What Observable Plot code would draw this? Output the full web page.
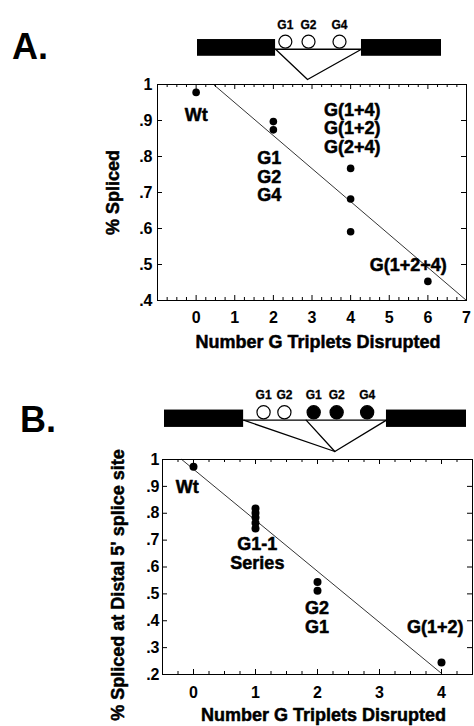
<!DOCTYPE html>
<html><head><meta charset="utf-8">
<script src="https://cdn.jsdelivr.net/npm/d3@7"></script>
<script src="https://cdn.jsdelivr.net/npm/@observablehq/plot@0.6"></script>
<style>
body{margin:0;background:#fff}
#root{position:relative;width:474px;height:726px;overflow:hidden;background:#fff;font-family:"Liberation Sans",Arial,sans-serif;font-weight:bold}
#root svg{position:absolute;left:0}
#root svg text{font-weight:bold}
.panel{position:absolute;font-size:36px;font-weight:bold;line-height:36px;color:#000}
</style></head><body><div id="root"></div>
<script>
// ---------- Panel A data ----------
const aX = [0, 2, 2, 4, 4, 4, 6];
const aY = [0.978, 0.897, 0.874, 0.767, 0.682, 0.591, 0.453];
const aFitX = [0.45, 7];
const aFitY = [1, 0.4];
const aLabels = ["Wt", "G1\nG2\nG4", "G(1+4)\nG(1+2)\nG(2+4)", "G(1+2+4)"];
const aLabelX = [0, 1.89, 4.04, 5.49];
const aLabelY = [0.914, 0.744, 0.878, 0.5];
const aXTicks = [0, 1, 2, 3, 4, 5, 6, 7];
const aYTicks = [0.4, 0.5, 0.6, 0.7, 0.8, 0.9, 1];

// ---------- Panel B data ----------
const bX = [0, 1, 1, 1, 1, 1, 2, 2, 4];
const bY = [0.973, 0.818, 0.801, 0.784, 0.764, 0.743, 0.544, 0.512, 0.245];
const bFitX = [-0.19, 4];
const bFitY = [1, 0.204];
const bLabels = ["Wt", "G1-1\nSeries", "G2\nG1", "G(1+2)"];
const bLabelX = [-0.1, 1.03, 1.99, 3.9];
const bLabelY = [0.896, 0.649, 0.412, 0.378];
const bXTicks = [0, 1, 2, 3, 4];
const bYTicks = [0.2, 0.3, 0.4, 0.5, 0.6, 0.7, 0.8, 0.9, 1];

// ---------- Schematic data (arbitrary units 0-100) ----------
const aExonStart = [0, 67.2], aExonEnd = [32, 100];
const aSiteName = ["G1", "G2", "G4"], aSitePos = [36, 45.5, 58.2], aSiteFilled = [false, false, false];
const aSplicePaths = [[32, 45.1, 67.2]];
const bExonStart = [0, 73.5], bExonEnd = [26.2, 100];
const bSiteName = ["G1", "G2", "G1", "G2", "G4"], bSitePos = [32.8, 39.7, 49.4, 57, 67.1], bSiteFilled = [false, false, true, true, true];
const bSplicePaths = [[26.2, 56.4, 73.5], [46.9, 56.4]];

const FONT = '"Liberation Sans", Arial, sans-serif';
const root = document.getElementById("root");
const fmtY = d => d === 1 ? "1" : d3.format(".1f")(d).replace(/^0/, "");
const heavy = {fontWeight: "bold", fill: "black", stroke: "black", strokeWidth: 0.5};

function chart(o) {
  const W = 474;
  const fw = W - o.mL - o.mR, fh = o.height - o.mT - o.mB;
  const pts = o.xs.map((x, i) => ({x, y: o.ys[i]}));
  const fit = o.fitX.map((x, i) => ({x, y: o.fitY[i]}));
  const lab = o.labels.map((t, i) => ({t, x: o.labelX[i], y: o.labelY[i]}));
  const minorX = d3.range(Math.ceil(o.xDomain[0] * 4) / 4, o.xDomain[1] + 1e-9, 0.25).filter(v => Math.abs(v - Math.round(v)) > 1e-6);
  const svg = Plot.plot({
    width: W, height: o.height,
    marginLeft: o.mL, marginRight: o.mR, marginTop: o.mT, marginBottom: o.mB,
    style: {fontFamily: FONT, fontWeight: "bold", background: "transparent", color: "black"},
    x: {domain: o.xDomain, axis: null},
    y: {domain: o.yDomain, axis: null},
    marks: [
      Plot.frame({stroke: "black", strokeWidth: 1}),
      Plot.ruleX(o.xTicks, {x: d => d, insetTop: fh - 5, stroke: "black"}),
      Plot.ruleX(o.xTicks, {x: d => d, insetBottom: fh - 5, stroke: "black"}),
      Plot.ruleX(minorX, {x: d => d, insetTop: fh - 3, stroke: "black"}),
      Plot.ruleX(minorX, {x: d => d, insetBottom: fh - 3, stroke: "black"}),
      Plot.ruleY(o.yTicks, {y: d => d, insetRight: fw - 5, stroke: "black"}),
      Plot.ruleY(o.yTicks, {y: d => d, insetLeft: fw - 5, stroke: "black"}),
      Plot.axisX(o.xTicks, {tickSize: 0, tickPadding: o.xPad, fontSize: 16, ...heavy, label: null, tickFormat: d => String(d)}),
      Plot.axisY(o.yTicks, {tickSize: 0, tickPadding: o.yPad, fontSize: 16, ...heavy, label: null, tickFormat: fmtY}),
      Plot.line(fit, {x: "x", y: "y", stroke: "black", strokeWidth: 0.8}),
      Plot.dot(pts, {x: "x", y: "y", r: o.r, fill: "black"}),
      Plot.text(lab, {x: "x", y: "y", text: "t", fontSize: 18, ...heavy, lineHeight: 1.04, textAnchor: "middle", lineAnchor: "middle"}),
      Plot.text([o.yLabel], {frameAnchor: "left", rotate: -90, dx: -44, dy: o.yLabelDy, fontSize: 18, ...heavy, textAnchor: "middle", lineAnchor: "middle"}),
      Plot.text(["Number G Triplets Disrupted"], {frameAnchor: "bottom", dx: 6, dy: o.xLabelDy, fontSize: 18, ...heavy, textAnchor: "middle", lineAnchor: "middle"})
    ]
  });
  svg.style.top = o.top + "px";
  root.appendChild(svg);
}

function diagram(o) {
  const exonY1 = 4.3, exonY2 = 7.4, intronY = 5.6, circleY = 7, labelY = 10, apexY = 0;
  const exons = o.exonStart.map((s, i) => ({x1: s, x2: o.exonEnd[i]}));
  const intron = [{x: o.exonEnd[0], y: intronY}, {x: o.exonStart[1], y: intronY}];
  const splice = [];
  o.paths.forEach((p, k) => p.forEach((x, j) => {
    splice.push({k, x, y: j === 1 ? apexY : intronY});
  }));
  const sites = o.siteName.map((n, i) => ({n, x: o.sitePos[i], f: o.siteFilled[i], cy: circleY, ly: labelY}));
  const svg = Plot.plot({
    width: 474, height: o.height,
    marginLeft: o.mL, marginRight: o.mR, marginTop: o.mT, marginBottom: o.mB,
    style: {fontFamily: FONT, fontWeight: "bold", background: "transparent", color: "black"},
    x: {domain: [0, 100], axis: null},
    y: {domain: [0, 10], axis: null},
    marks: [
      Plot.rect(exons, {x1: "x1", x2: "x2", y1: () => exonY1, y2: () => exonY2, fill: "black"}),
      Plot.line(intron, {x: "x", y: "y", stroke: "black", strokeWidth: 1.3}),
      Plot.line(splice, {x: "x", y: "y", z: "k", stroke: "black", strokeWidth: 1.3}),
      Plot.dot(sites, {x: "x", y: "cy", r: o.r, fill: d => d.f ? "black" : "white", stroke: "black", strokeWidth: 1.2}),
      Plot.text(sites, {x: "x", y: "ly", text: "n", fontSize: 12, ...heavy, strokeWidth: 0.3})
    ]
  });
  svg.style.top = o.top + "px";
  root.appendChild(svg);
}

// Panel A
diagram({exonStart: aExonStart, exonEnd: aExonEnd, siteName: aSiteName, sitePos: aSitePos, siteFilled: aSiteFilled, paths: aSplicePaths,
  top: 0, height: 90, mL: 197, mR: 33, mT: 25, mB: 11, r: 6.5});
chart({xs: aX, ys: aY, fitX: aFitX, fitY: aFitY, labels: aLabels, labelX: aLabelX, labelY: aLabelY,
  xDomain: [-1, 7], yDomain: [0.4, 1], xTicks: aXTicks, yTicks: aYTicks, yLabel: "% Spliced",
  top: 70, height: 290, mL: 157, mR: 8, mT: 14, mB: 60, r: 3.8, xPad: 11, yPad: 5, yLabelDy: 0, xLabelDy: 42});

// Panel B
diagram({exonStart: bExonStart, exonEnd: bExonEnd, siteName: bSiteName, sitePos: bSitePos, siteFilled: bSiteFilled, paths: bSplicePaths,
  top: 370, height: 90, mL: 164, mR: 8, mT: 25, mB: 9, r: 6.6});
chart({xs: bX, ys: bY, fitX: bFitX, fitY: bFitY, labels: bLabels, labelX: bLabelX, labelY: bLabelY,
  xDomain: [-0.5, 4.5], yDomain: [0.2, 1], xTicks: bXTicks, yTicks: bYTicks, yLabel: "% Spliced at Distal 5' splice site",
  top: 440, height: 286, mL: 162, mR: 2, mT: 19, mB: 52, r: 4, xPad: 12, yPad: 3, yLabelDy: 18, xLabelDy: 41});

// Panel titles
const tA = document.createElement("div"); tA.className = "panel"; tA.textContent = "A."; tA.style.left = "12px"; tA.style.top = "29px"; root.appendChild(tA);
const tB = document.createElement("div"); tB.className = "panel"; tB.textContent = "B."; tB.style.left = "20px"; tB.style.top = "402px"; root.appendChild(tB);
</script></body></html>
